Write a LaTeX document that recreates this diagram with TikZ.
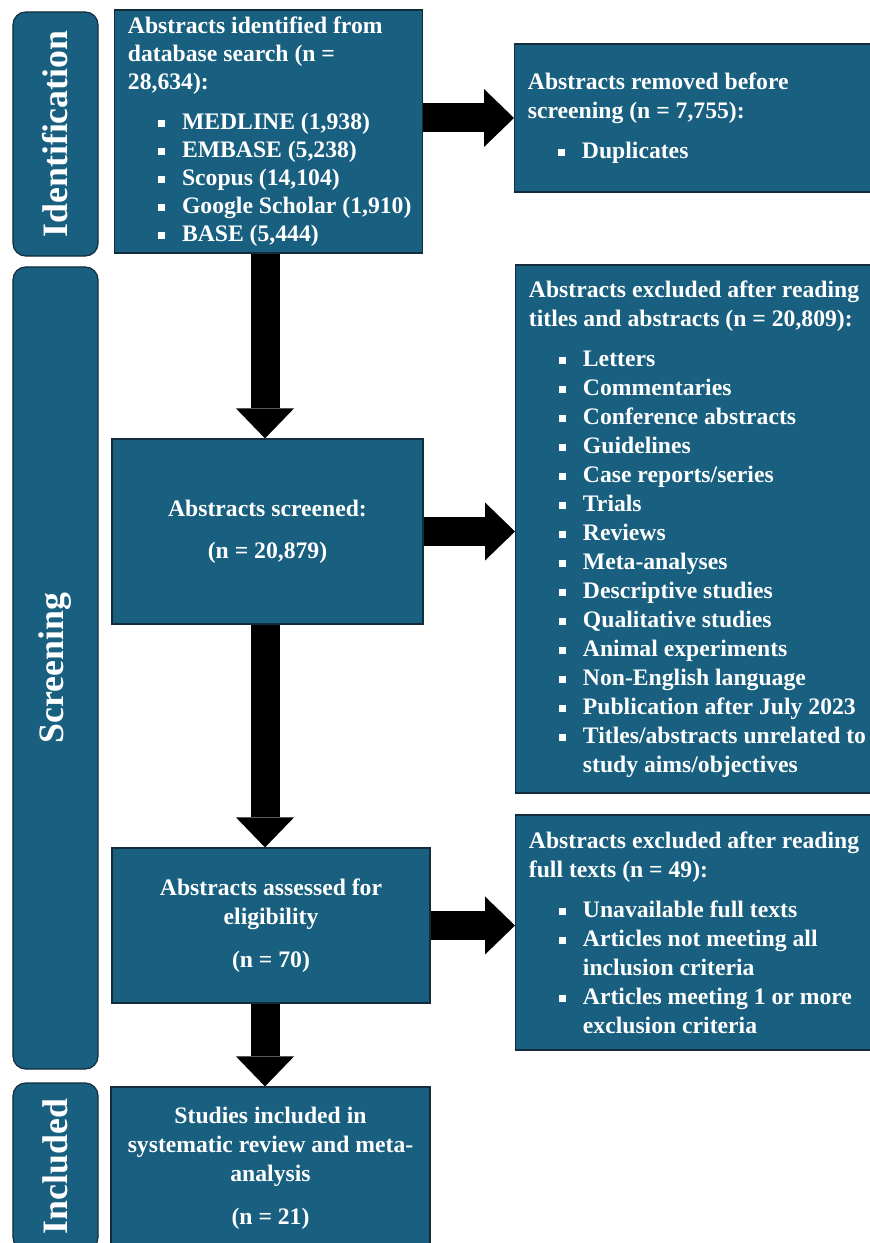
\documentclass[tikz,border=0pt]{standalone}
\usepackage{fontspec}
\setmainfont{Liberation Serif}
\usetikzlibrary{positioning,arrows.meta}

\definecolor{prismablue}{RGB}{24,95,128}
\definecolor{prismaline}{RGB}{18,44,60}

\newcommand{\hd}{\hspace*{0.3cm}}
\newcommand{\sq}{\hspace*{1.2cm}\rule[2.3pt]{6pt}{6pt}\hspace*{0.51cm}}
\newcommand{\cont}{\hspace*{1.92cm}}

\begin{document}
\begin{tikzpicture}[x=0.03cm,y=-0.03cm,
		flowbox/.style={draw=prismaline, line width=1pt, fill=prismablue, text=white,
			font=\fontsize{20.2}{24.75}\selectfont\bfseries, inner ysep=1pt},
		listbox/.style={flowbox, align=flush left, inner xsep=0.1cm},
		midbox/.style={flowbox, align=center},
		stagebox/.style={flowbox, rotate=90, rounded corners=0.38cm,
			font=\fontsize{30.5}{36}\selectfont\bfseries},
		bigarrow/.style={line width=0.87cm, -{Triangle[width=1.74cm,length=0.9cm,line width=0pt]}}]
		\useasboundingbox (0,0) rectangle (869,1243);

		% Stage labels
		\node[stagebox, minimum width=7.32cm, minimum height=2.55cm] (stageid) at (55.5,134) {Identification};
		\node[stagebox, minimum width=24.06cm, minimum height=2.55cm] (stagescr) at (55.5,668) {Screening};
		\node[stagebox, minimum width=5.01cm, minimum height=2.55cm] (stageinc) at (55.5,1166.5) {Included};

		% Main column
		\node[listbox, text width=9.03cm, minimum height=7.29cm, font=\fontsize{20.2}{23.9}\selectfont\bfseries] (found) at (268.5,131.5)
			{\hd Abstracts identified from\\\hd database search (n =\\\hd 28,634):\\[10.5pt]
			\sq MEDLINE (1,938)\\\sq EMBASE (5,238)\\\sq Scopus (14,104)\\
			\sq Google Scholar (1,910)\\\sq BASE (5,444)};
		\node[midbox, minimum width=9.33cm, minimum height=5.55cm] (screened) at (267.5,531.5)
			{Abstracts screened:\\[11pt](n = 20,879)};
		\node[midbox, minimum width=9.54cm, minimum height=4.65cm] (assessed) at (271,925.5)
			{Abstracts assessed for\\eligibility\\[12pt](n = 70)};
		\node[midbox, minimum width=9.57cm, minimum height=4.89cm] (included) at (270.5,1168.5)
			{Studies included in\\systematic review and meta-\\analysis\\[12pt](n = 21)};

		% Side column (runs off the right edge)
		\node[listbox, anchor=west, text width=11.2cm, minimum height=4.44cm] (removed) at (514,118)
			{\hd Abstracts removed before\\\hd screening (n = 7,755):\\[9.5pt]\sq Duplicates};
		\node[listbox, anchor=west, text width=11.2cm, minimum height=15.84cm] (exclabs) at (515,529)
			{\hd Abstracts excluded after reading\\\hd titles and abstracts (n = 20,809):\\[9.5pt]
			\sq Letters\\\sq Commentaries\\\sq Conference abstracts\\\sq Guidelines\\
			\sq Case reports/series\\\sq Trials\\\sq Reviews\\\sq Meta-analyses\\
			\sq Descriptive studies\\\sq Qualitative studies\\\sq Animal experiments\\
			\sq Non-English language\\\sq Publication after July 2023\\
			\sq Titles/abstracts unrelated to\\\cont study aims/objectives};
		\node[listbox, anchor=west, text width=11.2cm, minimum height=7.05cm] (exclfull) at (515,932.5)
			{\hd Abstracts excluded after reading\\\hd full texts (n = 49):\\[9.5pt]
			\sq Unavailable full texts\\\sq Articles not meeting all\\\cont inclusion criteria\\
			\sq Articles meeting 1 or more\\\cont exclusion criteria};

		% Arrows
		\coordinate (spine) at (265,0);
		\draw[bigarrow] (found.south -| spine) -- (screened.north -| spine);
		\draw[bigarrow] (screened.south -| spine) -- (assessed.north -| spine);
		\draw[bigarrow] (assessed.south -| spine) -- (included.north -| spine);
		\draw[bigarrow] (found.east |- removed.west) -- (removed.west);
		\draw[bigarrow] (screened.east) -- (screened.east -| exclabs.west);
		\draw[bigarrow] (assessed.east) -- (assessed.east -| exclfull.west);
	\end{tikzpicture}
\end{document}
